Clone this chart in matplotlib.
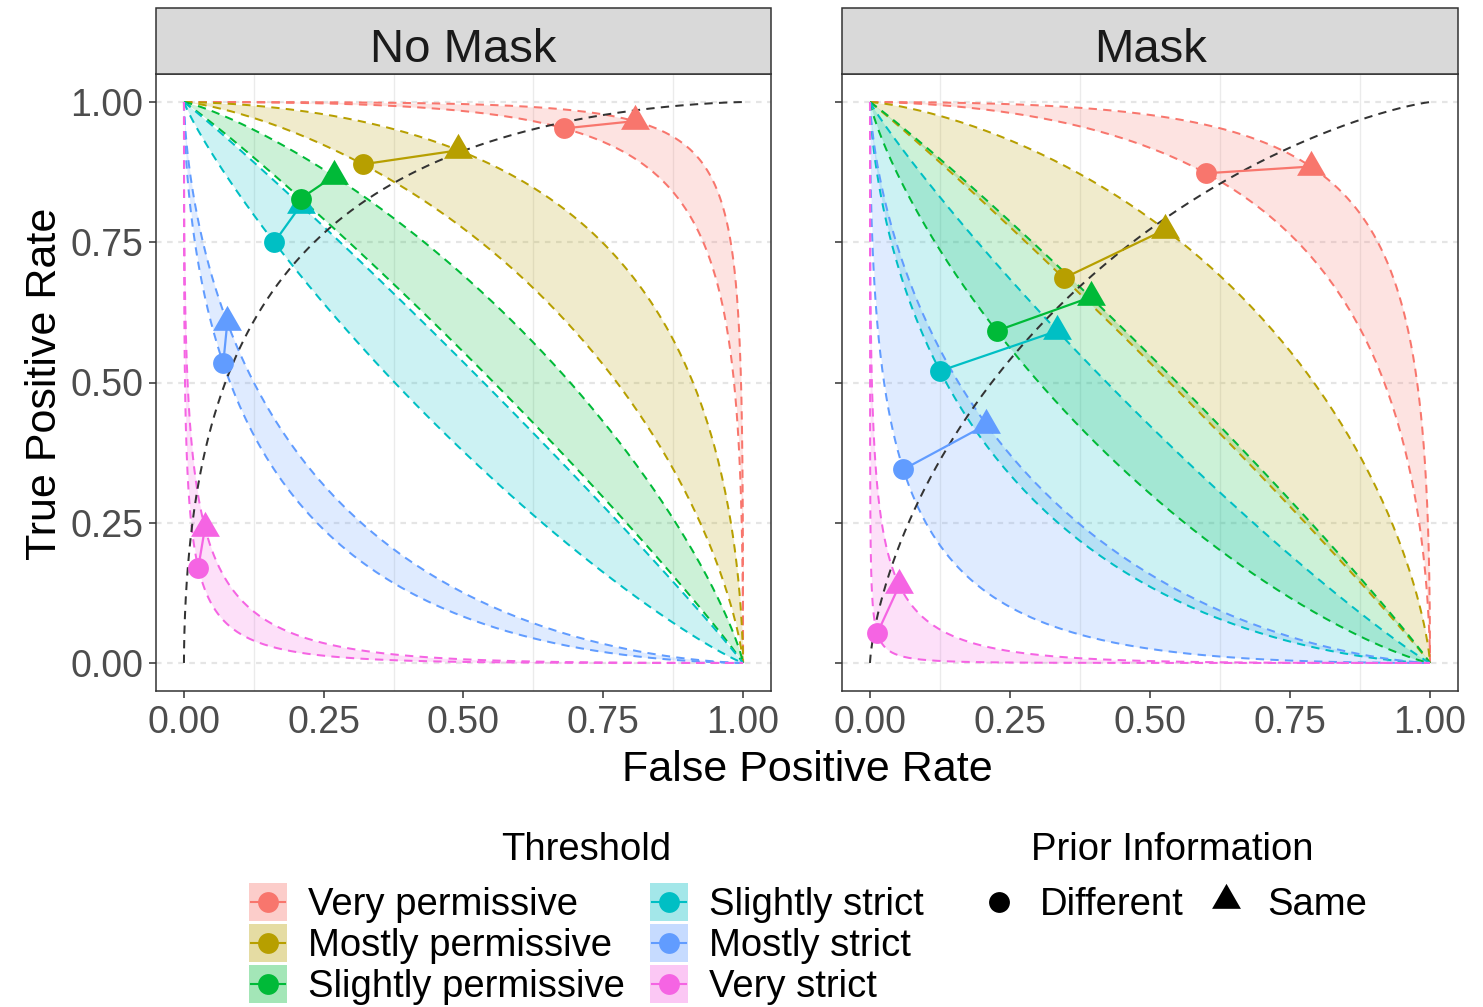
import numpy as np
import matplotlib
matplotlib.use("Agg")
import matplotlib.pyplot as plt
from matplotlib.patches import Rectangle
from matplotlib.path import Path
from matplotlib.ticker import FixedLocator
from statistics import NormalDist

plt.rcParams['font.family'] = ['Liberation Sans', 'DejaVu Sans']
plt.rcParams['lines.scale_dashes'] = False

# ---------------------------------------------------------------- data
thresholds = ["Very permissive", "Mostly permissive", "Slightly permissive",
              "Slightly strict", "Mostly strict", "Very strict"]
colors = ["#F8766D", "#B79F00", "#00BA38", "#00BFC4", "#619CFF", "#F564E3"]
panels = ["No Mask", "Mask"]
priors = ["Different", "Same"]

# observed rates, one value per threshold (same order as `thresholds`)
fpr_nomask_different = [0.680, 0.320, 0.209, 0.1615, 0.0703, 0.0256]
tpr_nomask_different = [0.953, 0.889, 0.828, 0.750, 0.534, 0.170]
fpr_nomask_same = [0.806, 0.491, 0.268, 0.209, 0.0775, 0.0376]
tpr_nomask_same = [0.966, 0.914, 0.868, 0.816, 0.607, 0.241]

fpr_mask_different = [0.600, 0.346, 0.226, 0.125, 0.0595, 0.013]
tpr_mask_different = [0.873, 0.686, 0.592, 0.5205, 0.345, 0.053]
fpr_mask_same = [0.787, 0.527, 0.394, 0.3345, 0.208, 0.0524]
tpr_mask_same = [0.885, 0.7726, 0.652, 0.592, 0.425, 0.1385]

# binormal ROC fit per panel: z(TPR) = intercept + slope * z(FPR)
roc_intercept = [1.36, 0.75]
roc_slope = [0.94, 0.96]

axis_ticks = [0.0, 0.25, 0.5, 0.75, 1.0]
tick_labels = ["0.00", "0.25", "0.50", "0.75", "1.00"]

# ---------------------------------------------------------------- helpers
ND = NormalDist()
cdf = np.vectorize(ND.cdf)
zgrid = np.linspace(-8.5, 8.5, 3001)
fgrid = cdf(zgrid)


def criterion(f, h):
    return -(ND.inv_cdf(h) + ND.inv_cdf(f)) / 2.0


def iso_criterion(c):
    return cdf(-2.0 * c - zgrid)


W, H = 1483, 1007
fig = plt.figure(figsize=(W / 100, H / 100), dpi=100)


def rect(x0, y0, x1, y1):
    return [x0 / W, 1 - y1 / H, (x1 - x0) / W, (y1 - y0) / H]


panel_px = [(156, 74, 771, 691), (842, 74, 1458, 691)]
panel_data = [
    (fpr_nomask_different, tpr_nomask_different, fpr_nomask_same, tpr_nomask_same),
    (fpr_mask_different, tpr_mask_different, fpr_mask_same, tpr_mask_same),
]

tri_marker = Path([(0, 1.155), (-1, -0.577), (1, -0.577), (0, 1.155)],
                  [Path.MOVETO, Path.LINETO, Path.LINETO, Path.CLOSEPOLY])
dash = (0, (6, 4.5))
edge_col = "#333333"

for p, (px, data) in enumerate(zip(panel_px, panel_data)):
    ax = fig.add_axes(rect(*px))
    fd, td, fs, ts = data
    ax.set_xlim(-0.05, 1.05)
    ax.set_ylim(-0.05, 1.05)

    # criterion bands
    for i, col in enumerate(colors):
        h1 = iso_criterion(criterion(fd[i], td[i]))
        h2 = iso_criterion(criterion(fs[i], ts[i]))
        ax.fill_between(fgrid, h1, h2, color=col, alpha=0.2, lw=0, zorder=2)
    for i, col in enumerate(colors):
        for f, t in ((fd[i], td[i]), (fs[i], ts[i])):
            ax.plot(fgrid, iso_criterion(criterion(f, t)), color=col,
                    lw=1.45, ls=dash, zorder=3)

    # fitted ROC
    ax.plot(fgrid, cdf(roc_intercept[p] + roc_slope[p] * zgrid),
            color="#333333", lw=1.45, ls=dash, zorder=4)

    # observed points
    for i, col in enumerate(colors):
        ax.plot([fd[i], fs[i]], [td[i], ts[i]], color=col, lw=1.6, zorder=5)
    for i, col in enumerate(colors):
        ax.plot(fs[i], ts[i], marker=tri_marker, ms=24, color=col, ls="none",
                mew=0, zorder=6)
    for i, col in enumerate(colors):
        ax.plot(fd[i], td[i], marker="o", ms=15, color=col, ls="none",
                mew=0, zorder=7)

    # axes styling
    ax.xaxis.set_major_locator(FixedLocator(axis_ticks))
    ax.yaxis.set_major_locator(FixedLocator(axis_ticks))
    ax.xaxis.set_minor_locator(FixedLocator([0.125, 0.375, 0.625, 0.875]))
    ax.set_xticklabels(tick_labels)
    if p == 0:
        ax.set_yticklabels(tick_labels)
    else:
        ax.set_yticklabels([])
        ax.tick_params(axis="y", which="both", length=0)
    ax.tick_params(axis="both", which="major", labelsize=27, colors=edge_col,
                   labelcolor="#4D4D4D", length=5, width=1.1)
    ax.tick_params(axis="x", which="major", pad=5)
    ax.tick_params(axis="y", which="major", pad=4)
    ax.tick_params(axis="x", which="minor", length=0)
    ax.grid(which="minor", axis="x", color="#EBEBEB", lw=1.0, zorder=0)
    ax.grid(which="major", axis="y", color="#E5E5E5", lw=1.6,
            ls=(0, (4, 4)), zorder=0)
    ax.grid(which="major", axis="x", visible=False)
    ax.set_axisbelow(True)
    for s in ax.spines.values():
        s.set_color(edge_col)
        s.set_linewidth(1.1)
        s.set_zorder(10)

# ---------------------------------------------------------------- overlay: strips, titles, legend
ov = fig.add_axes([0, 0, 1, 1], facecolor="none")
ov.set_xlim(0, W)
ov.set_ylim(H, 0)
ov.axis("off")

for (x0, y0, x1, y1), name in zip(panel_px, panels):
    ov.add_patch(Rectangle((x0, 8), x1 - x0, y0 - 8, facecolor="#D9D9D9",
                           edgecolor=edge_col, lw=1.1))
    ov.text((x0 + x1) / 2, 62, name, fontsize=34, color="#1A1A1A",
            ha="center", va="baseline")

ov.text(807, 781, "False Positive Rate", fontsize=31, ha="center", va="baseline")
ov.text(56, 384, "True Positive Rate", fontsize=31, ha="center", va="baseline",
        rotation=90, rotation_mode="anchor")

# threshold legend
ov.text(586, 860, "Threshold", fontsize=27.5, ha="center", va="baseline")
key_cols = [249, 650]
key_rows = [902, 943, 984]
for i, (lab, col) in enumerate(zip(thresholds, colors)):
    kx = key_cols[i // 3]
    ky = key_rows[i % 3]
    ov.add_patch(Rectangle((kx, ky - 19), 38, 38, facecolor=col, alpha=0.36,
                           edgecolor="none"))
    ov.plot([kx + 2, kx + 36], [ky, ky], color=col, lw=1.5)
    ov.plot(kx + 19, ky, marker="o", ms=15, color=col, mew=0)
    ov.text(kx + 59, ky + 13, lab, fontsize=27.5, ha="left", va="baseline")

# prior legend
ov.text(1172, 860, "Prior Information", fontsize=27.5, ha="center", va="baseline")
ov.plot(999, 902, marker="o", ms=15, color="black", mew=0)
ov.text(1040, 915, priors[0], fontsize=27.5, ha="left", va="baseline")
ov.plot(1226, 900, marker=tri_marker, ms=24, color="black", mew=0)
ov.text(1267, 915, priors[1], fontsize=27.5, ha="left", va="baseline")

fig.savefig("out.png", dpi=100)
